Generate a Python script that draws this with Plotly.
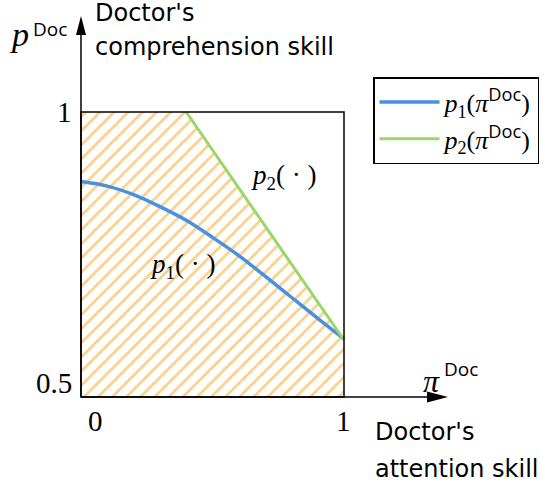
import plotly.graph_objects as go

# ---- data ----
pi_blue = [0.0, 0.1, 0.2, 0.3, 0.4, 0.5, 0.6, 0.7, 0.8, 0.9, 1.0]
p1_vals = [0.878, 0.870, 0.855, 0.834, 0.810, 0.780, 0.748, 0.712, 0.675, 0.638, 0.602]
pi_green = [0.4, 1.0]
p2_vals = [1.0, 0.6]
x_ticks = [0, 1]
x_tick_labels = ["0", "1"]
y_ticks = [0.5, 1]
y_tick_labels = ["0.5", "1"]

# ---- pixel <-> data helpers (page body margin removed in post_script) ----
VW, VH = 545, 486
PX0, PX1 = 81, 344      # x = 0 and x = 1
PY05, PY1 = 397, 112    # y = 0.5 and y = 1
sx = PX1 - PX0
sy = (PY05 - PY1) / 0.5


def dx(px):
    return (px - PX0) / sx


def dy(py):
    return 0.5 + (PY05 - py) / sy


SERIF = "Liberation Serif"
SANS = "DejaVu Sans"
SUPF = "Open Sans"
ORANGE = "#F5A218"
BLUE = "#4A90E2"
GREEN = "#9AD66A"
DOC_SUP = "<sup><span style='font-family:Open Sans'>Doc</span></sup>"

fig = go.Figure()

# hatched feasible region (under p2 and inside box)
region_x = [x_ticks[0], x_ticks[0]] + pi_green + [x_ticks[1]]
region_y = [y_ticks[0], y_ticks[1]] + p2_vals + [y_ticks[0]]
fig.add_trace(go.Scatter(
    x=region_x, y=region_y, fill="toself", mode="lines",
    line=dict(width=0, color="rgba(0,0,0,0)"),
    fillcolor="rgba(0,0,0,0)",
    fillpattern=dict(shape="/", size=10, solidity=0.28,
                     fgcolor=ORANGE, bgcolor="rgba(255,255,255,0)"),
    showlegend=False, hoverinfo="skip"))

fig.add_trace(go.Scatter(
    x=pi_blue, y=p1_vals, mode="lines", line=dict(color=BLUE, width=3.5, shape="spline"),
    name="<i>p</i><sub>1</sub>(<i>π</i>" + DOC_SUP + ")",
    legendgroup="a"))
fig.add_trace(go.Scatter(
    x=pi_green, y=p2_vals, mode="lines", line=dict(color=GREEN, width=3),
    name="<i>p</i><sub>2</sub>(<i>π</i>" + DOC_SUP + ")",
    legendgroup="b"))

shapes = []
# box
shapes.append(dict(type="rect", x0=x_ticks[0], x1=x_ticks[1], y0=y_ticks[0], y1=y_ticks[1],
                   line=dict(color="black", width=1.5)))
# axes lines
x_tip = dx(448)
y_tip = dy(16)
shapes.append(dict(type="line", x0=0, y0=0.5, x1=dx(440), y1=0.5,
                   line=dict(color="black", width=1.5)))
shapes.append(dict(type="line", x0=0, y0=0.5, x1=0, y1=dy(24),
                   line=dict(color="black", width=1.5)))
# arrow heads
shapes.append(dict(type="path", xsizemode="pixel", ysizemode="pixel",
                   xanchor=x_tip, yanchor=0.5, path="M0,0 L-21,5.5 L-21,-5.5 Z",
                   fillcolor="black", line=dict(width=0)))
shapes.append(dict(type="path", xsizemode="pixel", ysizemode="pixel",
                   xanchor=0, yanchor=y_tip, path="M0,0 L-5,-19 L5,-19 Z",
                   fillcolor="black", line=dict(width=0)))

ann = []


def add_text(text, px, py, size, family, xanchor="left", yanchor="middle"):
    ann.append(dict(text=text, x=dx(px), y=dy(py), xref="x", yref="y",
                    showarrow=False, xanchor=xanchor, yanchor=yanchor,
                    font=dict(size=size, family=family, color="black")))


# axis symbols
add_text("<i>p</i>", 8, 34, 34, SERIF)
add_text("Doc", 31, 29, 19, SUPF)
add_text("<i>π</i>", 421, 381, 32, SERIF)
add_text("Doc", 442, 369, 19, SUPF)
# axis descriptions
add_text("Doctor's", 93, 13, 24, SANS)
add_text("comprehension skill", 93, 47, 24, SANS)
add_text("Doctor's", 373, 432, 24, SANS)
add_text("attention skill", 373, 469, 24, SANS)
# tick labels
add_text(y_tick_labels[1], 74, 112, 29, SERIF, xanchor="right")
add_text(y_tick_labels[0], 74, 383, 29, SERIF, xanchor="right")
add_text(x_tick_labels[0], 95, 421, 29, SERIF, xanchor="center")
add_text(x_tick_labels[1], 343, 421, 29, SERIF, xanchor="center")
# curve labels
add_text("<i>p</i><sub>1</sub>( · )", 182, 266, 27, SERIF, xanchor="center")
add_text("<i>p</i><sub>2</sub>( · )", 283, 177, 27, SERIF, xanchor="center")

fig.update_layout(
    width=VW, height=VH, autosize=False,
    margin=dict(l=0, r=0, t=0, b=0),
    paper_bgcolor="white", plot_bgcolor="white",
    xaxis=dict(range=[dx(0), dx(VW)], visible=False, fixedrange=True),
    yaxis=dict(range=[dy(VH), dy(0)], visible=False, fixedrange=True),
    shapes=shapes, annotations=ann,
    legend=dict(x=373 / VW, y=1 - 77 / VH, xanchor="left", yanchor="top",
                bgcolor="white", bordercolor="black", borderwidth=1.5,
                font=dict(family=SERIF, size=26, color="black"),
                itemwidth=60, tracegroupgap=0),
    showlegend=True,
)

fig.write_html("out.html", config={"displayModeBar": False},
               post_script="document.body.style.margin='0';")
